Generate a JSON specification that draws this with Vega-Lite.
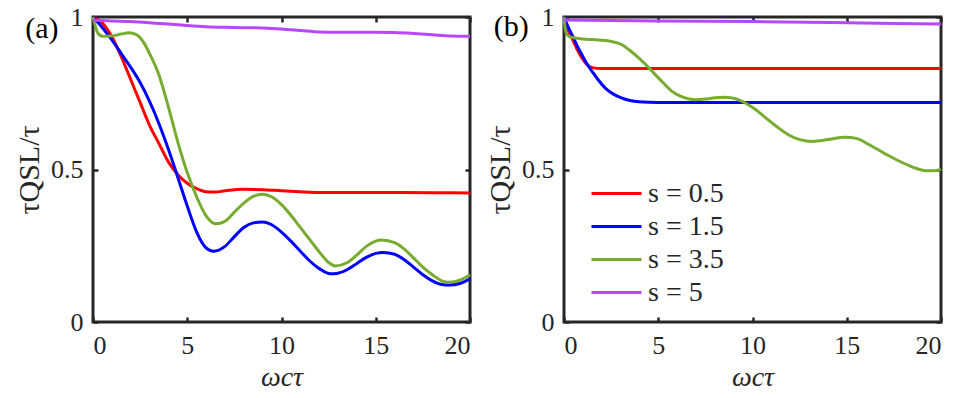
{
  "$schema": "https://vega.github.io/schema/vega-lite/v6.json",
  "autosize": {"type": "pad"},
  "padding": {"left": 13, "top": 2, "right": 0, "bottom": 0},
  "background": "white",
  "spacing": 94,
  "bounds": "flush",
  "resolve": {"scale": {"color": "independent"}},
  "config": {
    "font": "Liberation Serif",
    "view": {"stroke": "#262626", "strokeWidth": 3},
    "axis": {
      "domain": false, "grid": false,
      "tickColor": "#262626", "tickWidth": 2.5, "tickSize": -5,
      "labelFont": "Liberation Serif", "labelFontSize": 26, "labelColor": "#262626",
      "titleFont": "Liberation Serif", "titleFontSize": 30, "titleFontWeight": "normal", "titleColor": "#262626"
    },
    "legend": {
      "labelFont": "Liberation Serif", "labelFontSize": 28, "labelColor": "#262626"
    }
  },
  "datasets": {
    "a": [
      {"s":"s = 0.5","x":0,"y":1.0},{"s":"s = 0.5","x":0.5,"y":0.98},{"s":"s = 0.5","x":1.0,"y":0.935},{"s":"s = 0.5","x":1.5,"y":0.87},{"s":"s = 0.5","x":2.0,"y":0.795},{"s":"s = 0.5","x":2.5,"y":0.72},{"s":"s = 0.5","x":3.0,"y":0.645},{"s":"s = 0.5","x":3.5,"y":0.585},{"s":"s = 0.5","x":4.0,"y":0.525},{"s":"s = 0.5","x":4.5,"y":0.483},{"s":"s = 0.5","x":5.0,"y":0.455},{"s":"s = 0.5","x":5.5,"y":0.437},{"s":"s = 0.5","x":6.0,"y":0.427},{"s":"s = 0.5","x":6.5,"y":0.426},{"s":"s = 0.5","x":7.0,"y":0.43},{"s":"s = 0.5","x":8.0,"y":0.435},{"s":"s = 0.5","x":9.0,"y":0.434},{"s":"s = 0.5","x":10,"y":0.43},{"s":"s = 0.5","x":11,"y":0.427},{"s":"s = 0.5","x":12,"y":0.425},{"s":"s = 0.5","x":14,"y":0.425},{"s":"s = 0.5","x":16,"y":0.425},{"s":"s = 0.5","x":18,"y":0.424},{"s":"s = 0.5","x":20,"y":0.423},
      {"s":"s = 1.5","x":0,"y":1.0},{"s":"s = 1.5","x":0.5,"y":0.965},{"s":"s = 1.5","x":1.0,"y":0.925},{"s":"s = 1.5","x":1.5,"y":0.88},{"s":"s = 1.5","x":2.0,"y":0.835},{"s":"s = 1.5","x":2.5,"y":0.785},{"s":"s = 1.5","x":3.0,"y":0.723},{"s":"s = 1.5","x":3.5,"y":0.65},{"s":"s = 1.5","x":4.0,"y":0.566},{"s":"s = 1.5","x":4.5,"y":0.474},{"s":"s = 1.5","x":5.0,"y":0.38},{"s":"s = 1.5","x":5.5,"y":0.295},{"s":"s = 1.5","x":6.0,"y":0.243},{"s":"s = 1.5","x":6.4,"y":0.232},{"s":"s = 1.5","x":7.0,"y":0.248},{"s":"s = 1.5","x":7.5,"y":0.28},{"s":"s = 1.5","x":8.0,"y":0.31},{"s":"s = 1.5","x":8.5,"y":0.325},{"s":"s = 1.5","x":9.0,"y":0.328},{"s":"s = 1.5","x":9.5,"y":0.318},{"s":"s = 1.5","x":10,"y":0.295},{"s":"s = 1.5","x":10.5,"y":0.265},{"s":"s = 1.5","x":11,"y":0.232},{"s":"s = 1.5","x":11.5,"y":0.2},{"s":"s = 1.5","x":12,"y":0.175},{"s":"s = 1.5","x":12.6,"y":0.158},{"s":"s = 1.5","x":13,"y":0.16},{"s":"s = 1.5","x":13.5,"y":0.172},{"s":"s = 1.5","x":14,"y":0.192},{"s":"s = 1.5","x":14.5,"y":0.212},{"s":"s = 1.5","x":15,"y":0.225},{"s":"s = 1.5","x":15.4,"y":0.228},{"s":"s = 1.5","x":16,"y":0.222},{"s":"s = 1.5","x":16.5,"y":0.205},{"s":"s = 1.5","x":17,"y":0.18},{"s":"s = 1.5","x":17.5,"y":0.155},{"s":"s = 1.5","x":18,"y":0.135},{"s":"s = 1.5","x":18.5,"y":0.123},{"s":"s = 1.5","x":18.9,"y":0.121},{"s":"s = 1.5","x":19.5,"y":0.127},{"s":"s = 1.5","x":20,"y":0.142},
      {"s":"s = 3.5","x":0,"y":1.0},{"s":"s = 3.5","x":0.1,"y":0.975},{"s":"s = 3.5","x":0.25,"y":0.948},{"s":"s = 3.5","x":0.5,"y":0.937},{"s":"s = 3.5","x":1.0,"y":0.938},{"s":"s = 3.5","x":1.5,"y":0.944},{"s":"s = 3.5","x":1.9,"y":0.948},{"s":"s = 3.5","x":2.3,"y":0.942},{"s":"s = 3.5","x":2.7,"y":0.915},{"s":"s = 3.5","x":3.0,"y":0.88},{"s":"s = 3.5","x":3.5,"y":0.81},{"s":"s = 3.5","x":4.0,"y":0.705},{"s":"s = 3.5","x":4.5,"y":0.59},{"s":"s = 3.5","x":5.0,"y":0.49},{"s":"s = 3.5","x":5.5,"y":0.41},{"s":"s = 3.5","x":6.0,"y":0.348},{"s":"s = 3.5","x":6.5,"y":0.322},{"s":"s = 3.5","x":7.0,"y":0.33},{"s":"s = 3.5","x":7.5,"y":0.36},{"s":"s = 3.5","x":8.0,"y":0.39},{"s":"s = 3.5","x":8.5,"y":0.412},{"s":"s = 3.5","x":9.0,"y":0.419},{"s":"s = 3.5","x":9.5,"y":0.41},{"s":"s = 3.5","x":10,"y":0.385},{"s":"s = 3.5","x":10.5,"y":0.35},{"s":"s = 3.5","x":11,"y":0.31},{"s":"s = 3.5","x":11.5,"y":0.27},{"s":"s = 3.5","x":12,"y":0.23},{"s":"s = 3.5","x":12.5,"y":0.195},{"s":"s = 3.5","x":12.85,"y":0.184},{"s":"s = 3.5","x":13.5,"y":0.195},{"s":"s = 3.5","x":14,"y":0.22},{"s":"s = 3.5","x":14.5,"y":0.248},{"s":"s = 3.5","x":15,"y":0.265},{"s":"s = 3.5","x":15.3,"y":0.269},{"s":"s = 3.5","x":16,"y":0.26},{"s":"s = 3.5","x":16.5,"y":0.24},{"s":"s = 3.5","x":17,"y":0.21},{"s":"s = 3.5","x":17.5,"y":0.18},{"s":"s = 3.5","x":18,"y":0.155},{"s":"s = 3.5","x":18.5,"y":0.135},{"s":"s = 3.5","x":18.9,"y":0.13},{"s":"s = 3.5","x":19.5,"y":0.138},{"s":"s = 3.5","x":20,"y":0.155},
      {"s":"s = 5","x":0,"y":0.99},{"s":"s = 5","x":1,"y":0.987},{"s":"s = 5","x":2,"y":0.985},{"s":"s = 5","x":3,"y":0.981},{"s":"s = 5","x":4,"y":0.977},{"s":"s = 5","x":5,"y":0.972},{"s":"s = 5","x":6,"y":0.968},{"s":"s = 5","x":7,"y":0.966},{"s":"s = 5","x":8,"y":0.965},{"s":"s = 5","x":9,"y":0.964},{"s":"s = 5","x":10,"y":0.961},{"s":"s = 5","x":11,"y":0.956},{"s":"s = 5","x":12,"y":0.951},{"s":"s = 5","x":13,"y":0.95},{"s":"s = 5","x":14,"y":0.95},{"s":"s = 5","x":15,"y":0.95},{"s":"s = 5","x":16,"y":0.949},{"s":"s = 5","x":17,"y":0.946},{"s":"s = 5","x":18,"y":0.942},{"s":"s = 5","x":19,"y":0.938},{"s":"s = 5","x":20,"y":0.937}
    ],
    "b": [
      {"s":"s = 0.5","x":0,"y":1.0},{"s":"s = 0.5","x":0.2,"y":0.96},{"s":"s = 0.5","x":0.42,"y":0.931},{"s":"s = 0.5","x":0.7,"y":0.893},{"s":"s = 0.5","x":0.95,"y":0.866},{"s":"s = 0.5","x":1.2,"y":0.845},{"s":"s = 0.5","x":1.5,"y":0.834},{"s":"s = 0.5","x":2,"y":0.831},{"s":"s = 0.5","x":5,"y":0.831},{"s":"s = 0.5","x":10,"y":0.831},{"s":"s = 0.5","x":15,"y":0.831},{"s":"s = 0.5","x":20,"y":0.831},
      {"s":"s = 1.5","x":0,"y":1.0},{"s":"s = 1.5","x":0.2,"y":0.97},{"s":"s = 1.5","x":0.42,"y":0.942},{"s":"s = 1.5","x":0.7,"y":0.905},{"s":"s = 1.5","x":0.95,"y":0.876},{"s":"s = 1.5","x":1.2,"y":0.848},{"s":"s = 1.5","x":1.49,"y":0.822},{"s":"s = 1.5","x":1.8,"y":0.795},{"s":"s = 1.5","x":2.19,"y":0.767},{"s":"s = 1.5","x":2.6,"y":0.748},{"s":"s = 1.5","x":3.08,"y":0.734},{"s":"s = 1.5","x":3.5,"y":0.726},{"s":"s = 1.5","x":3.96,"y":0.722},{"s":"s = 1.5","x":5,"y":0.72},{"s":"s = 1.5","x":10,"y":0.72},{"s":"s = 1.5","x":15,"y":0.72},{"s":"s = 1.5","x":20,"y":0.72},
      {"s":"s = 3.5","x":0,"y":1.0},{"s":"s = 3.5","x":0.1,"y":0.95},{"s":"s = 3.5","x":0.3,"y":0.935},{"s":"s = 3.5","x":0.6,"y":0.931},{"s":"s = 3.5","x":1.0,"y":0.928},{"s":"s = 3.5","x":1.5,"y":0.926},{"s":"s = 3.5","x":2.0,"y":0.924},{"s":"s = 3.5","x":2.5,"y":0.92},{"s":"s = 3.5","x":3.08,"y":0.909},{"s":"s = 3.5","x":3.5,"y":0.89},{"s":"s = 3.5","x":3.96,"y":0.866},{"s":"s = 3.5","x":4.4,"y":0.84},{"s":"s = 3.5","x":4.84,"y":0.811},{"s":"s = 3.5","x":5.3,"y":0.782},{"s":"s = 3.5","x":5.73,"y":0.756},{"s":"s = 3.5","x":6.3,"y":0.737},{"s":"s = 3.5","x":6.96,"y":0.729},{"s":"s = 3.5","x":7.5,"y":0.731},{"s":"s = 3.5","x":8,"y":0.735},{"s":"s = 3.5","x":8.56,"y":0.737},{"s":"s = 3.5","x":9.1,"y":0.732},{"s":"s = 3.5","x":9.62,"y":0.718},{"s":"s = 3.5","x":10.2,"y":0.695},{"s":"s = 3.5","x":10.7,"y":0.669},{"s":"s = 3.5","x":11.3,"y":0.64},{"s":"s = 3.5","x":11.9,"y":0.614},{"s":"s = 3.5","x":12.5,"y":0.598},{"s":"s = 3.5","x":13.2,"y":0.592},{"s":"s = 3.5","x":14,"y":0.598},{"s":"s = 3.5","x":14.9,"y":0.606},{"s":"s = 3.5","x":15.5,"y":0.602},{"s":"s = 3.5","x":16.2,"y":0.581},{"s":"s = 3.5","x":17,"y":0.553},{"s":"s = 3.5","x":17.8,"y":0.527},{"s":"s = 3.5","x":18.5,"y":0.508},{"s":"s = 3.5","x":19.2,"y":0.496},{"s":"s = 3.5","x":19.6,"y":0.496},{"s":"s = 3.5","x":20,"y":0.5},
      {"s":"s = 5","x":0,"y":0.99},{"s":"s = 5","x":5,"y":0.987},{"s":"s = 5","x":10,"y":0.985},{"s":"s = 5","x":15,"y":0.981},{"s":"s = 5","x":20,"y":0.977}
    ]
  },
  "hconcat": [
    {
      "width": 377, "height": 305,
      "resolve": {"axis": {"x": "independent", "y": "independent"}},
      "layer": [
        {
          "data": {"name": "a"},
          "mark": {"type": "line", "strokeWidth": 3, "interpolate": "monotone"},
          "encoding": {
            "x": {"field": "x", "type": "quantitative", "scale": {"domain": [0, 20], "nice": false},
                  "axis": {"orient": "bottom", "values": [0, 5, 10, 15, 20], "labelPadding": 15, "title": "ωcτ", "titleFontStyle": "italic", "titleFontSize": 28, "titlePadding": 5}},
            "y": {"field": "y", "type": "quantitative", "scale": {"domain": [0, 1], "nice": false},
                  "axis": {"orient": "left", "values": [0, 0.5, 1], "format": "~g", "labelPadding": 15, "title": "τQSL/τ", "titlePadding": 6}},
            "color": {"field": "s", "type": "nominal", "legend": null,
                      "scale": {"domain": ["s = 0.5", "s = 1.5", "s = 3.5", "s = 5"], "range": ["#FF0000", "#0000FF", "#77AC30", "#B847FF"]}}
          }
        },
        {
          "data": {"name": "a"},
          "mark": {"type": "line", "opacity": 0},
          "encoding": {
            "x": {"field": "x", "type": "quantitative", "scale": {"domain": [0, 20], "nice": false},
                  "axis": {"orient": "top", "values": [0, 5, 10, 15, 20], "labels": false, "title": null}},
            "y": {"field": "y", "type": "quantitative", "scale": {"domain": [0, 1], "nice": false},
                  "axis": {"orient": "right", "values": [0, 0.5, 1], "labels": false, "title": null}},
            "detail": {"field": "s"}
          }
        },
        {
          "data": {"values": [{"label": "(a)"}]},
          "mark": {"type": "text", "fontSize": 30, "align": "left", "baseline": "middle", "color": "#000000"},
          "encoding": {
            "x": {"datum": -3.6, "type": "quantitative", "scale": {"domain": [0, 20], "nice": false}, "axis": null},
            "y": {"datum": 0.962, "type": "quantitative", "scale": {"domain": [0, 1], "nice": false}, "axis": null},
            "text": {"field": "label"}
          }
        }
      ]
    },
    {
      "width": 377, "height": 305,
      "resolve": {"axis": {"x": "independent", "y": "independent"}},
      "layer": [
        {
          "data": {"name": "b"},
          "mark": {"type": "line", "strokeWidth": 3, "interpolate": "monotone"},
          "encoding": {
            "x": {"field": "x", "type": "quantitative", "scale": {"domain": [0, 20], "nice": false},
                  "axis": {"orient": "bottom", "values": [0, 5, 10, 15, 20], "labelPadding": 15, "title": "ωcτ", "titleFontStyle": "italic", "titleFontSize": 28, "titlePadding": 5}},
            "y": {"field": "y", "type": "quantitative", "scale": {"domain": [0, 1], "nice": false},
                  "axis": {"orient": "left", "values": [0, 0.5, 1], "format": "~g", "labelPadding": 15, "title": "τQSL/τ", "titlePadding": 6}},
            "color": {"field": "s", "type": "nominal",
                      "scale": {"domain": ["s = 0.5", "s = 1.5", "s = 3.5", "s = 5"], "range": ["#FF0000", "#0000FF", "#77AC30", "#B847FF"]},
                      "legend": {"title": null, "orient": "none", "legendX": 26, "legendY": 160, "padding": 0,
                                 "symbolType": "stroke", "symbolSize": 2500, "symbolStrokeWidth": 3,
                                 "clipHeight": 33, "rowPadding": 0, "labelOffset": 5}}
          }
        },
        {
          "data": {"name": "b"},
          "mark": {"type": "line", "opacity": 0},
          "encoding": {
            "x": {"field": "x", "type": "quantitative", "scale": {"domain": [0, 20], "nice": false},
                  "axis": {"orient": "top", "values": [0, 5, 10, 15, 20], "labels": false, "title": null}},
            "y": {"field": "y", "type": "quantitative", "scale": {"domain": [0, 1], "nice": false},
                  "axis": {"orient": "right", "values": [0, 0.5, 1], "labels": false, "title": null}},
            "detail": {"field": "s"}
          }
        },
        {
          "data": {"values": [{"label": "(b)"}]},
          "mark": {"type": "text", "fontSize": 30, "align": "left", "baseline": "middle", "color": "#000000"},
          "encoding": {
            "x": {"datum": -3.73, "type": "quantitative", "scale": {"domain": [0, 20], "nice": false}, "axis": null},
            "y": {"datum": 0.967, "type": "quantitative", "scale": {"domain": [0, 1], "nice": false}, "axis": null},
            "text": {"field": "label"}
          }
        }
      ]
    }
  ]
}
